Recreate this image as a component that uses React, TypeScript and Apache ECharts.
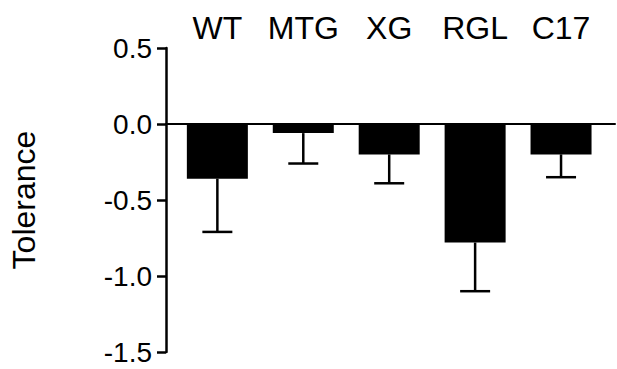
import React, { useEffect, useRef } from "react";
import * as echarts from "echarts";

const categories = ["WT", "MTG", "XG", "RGL", "C17"];
const meanValues = [-0.36, -0.06, -0.2, -0.78, -0.2];
const lowerErrorEnds = [-0.71, -0.26, -0.39, -1.1, -0.35];
const yTicks = { min: -1.5, max: 0.5, interval: 0.5 };
const yAxisTitle = "Tolerance";

const FONT = "'Liberation Sans', Arial, Helvetica, sans-serif";

export default function App() {
  const ref = useRef<HTMLDivElement>(null);
  useEffect(() => {
    if (!ref.current) return;
    const chart = echarts.init(ref.current, null, { renderer: "svg" });
    const errorData = categories.map((_, i) => [i, meanValues[i], lowerErrorEnds[i]]);
    chart.setOption({
      animation: false,
      backgroundColor: "#ffffff",
      grid: [
        { left: 174.4, right: 13, top: 48, bottom: 17 },
        { left: 161, right: 2, top: 48, bottom: 17 },
      ],
      xAxis: [
        {
          type: "category",
          gridIndex: 0,
          data: categories,
          position: "top",
          axisLine: { show: false, onZero: false },
          axisTick: { show: false },
          axisLabel: { color: "#000", fontSize: 32, fontFamily: FONT, margin: 4, interval: 0, hideOverlap: false },
          splitLine: { show: false },
        },
        {
          type: "value",
          gridIndex: 1,
          min: 0,
          max: 1,
          axisLine: { show: true, onZero: true, lineStyle: { color: "#000", width: 2 } },
          axisTick: { show: false },
          axisLabel: { show: false },
          splitLine: { show: false },
        },
      ],
      yAxis: [
        {
          type: "value",
          gridIndex: 0,
          min: yTicks.min,
          max: yTicks.max,
          interval: yTicks.interval,
          show: false,
          splitLine: { show: false },
        },
        {
          type: "value",
          gridIndex: 1,
          min: yTicks.min,
          max: yTicks.max,
          interval: yTicks.interval,
          name: yAxisTitle,
          nameLocation: "middle",
          nameGap: 126,
          nameTextStyle: { color: "#000", fontSize: 32, fontFamily: FONT },
          axisLine: { show: true, lineStyle: { color: "#000", width: 2.5 } },
          axisTick: { show: true, length: 9, lineStyle: { color: "#000", width: 2.5 } },
          axisLabel: {
            color: "#000",
            fontSize: 28,
            fontFamily: FONT,
            margin: 14,
            formatter: (v: number) => v.toFixed(1),
          },
          splitLine: { show: false },
        },
      ],
      series: [
        {
          type: "bar",
          xAxisIndex: 0,
          yAxisIndex: 0,
          data: meanValues,
          barCategoryGap: "29%",
          itemStyle: { color: "#000" },
        },
        {
          type: "custom",
          xAxisIndex: 0,
          yAxisIndex: 0,
          data: errorData,
          z: 5,
          renderItem: (params: any, api: any) => {
            const x = api.value(0);
            const top = api.coord([x, api.value(1)]);
            const bot = api.coord([x, api.value(2)]);
            const half = 15;
            const style = { stroke: "#000", lineWidth: 2.5, fill: "none" };
            return {
              type: "group",
              children: [
                { type: "line", shape: { x1: top[0], y1: top[1], x2: bot[0], y2: bot[1] }, style },
                { type: "line", shape: { x1: bot[0] - half, y1: bot[1], x2: bot[0] + half, y2: bot[1] }, style },
              ],
            };
          },
        },
      ],
    });
    return () => chart.dispose();
  }, []);
  return (
    <div
      ref={ref}
      style={{ position: "fixed", left: 0, top: 0, width: 617, height: 369, background: "#fff" }}
    />
  );
}
